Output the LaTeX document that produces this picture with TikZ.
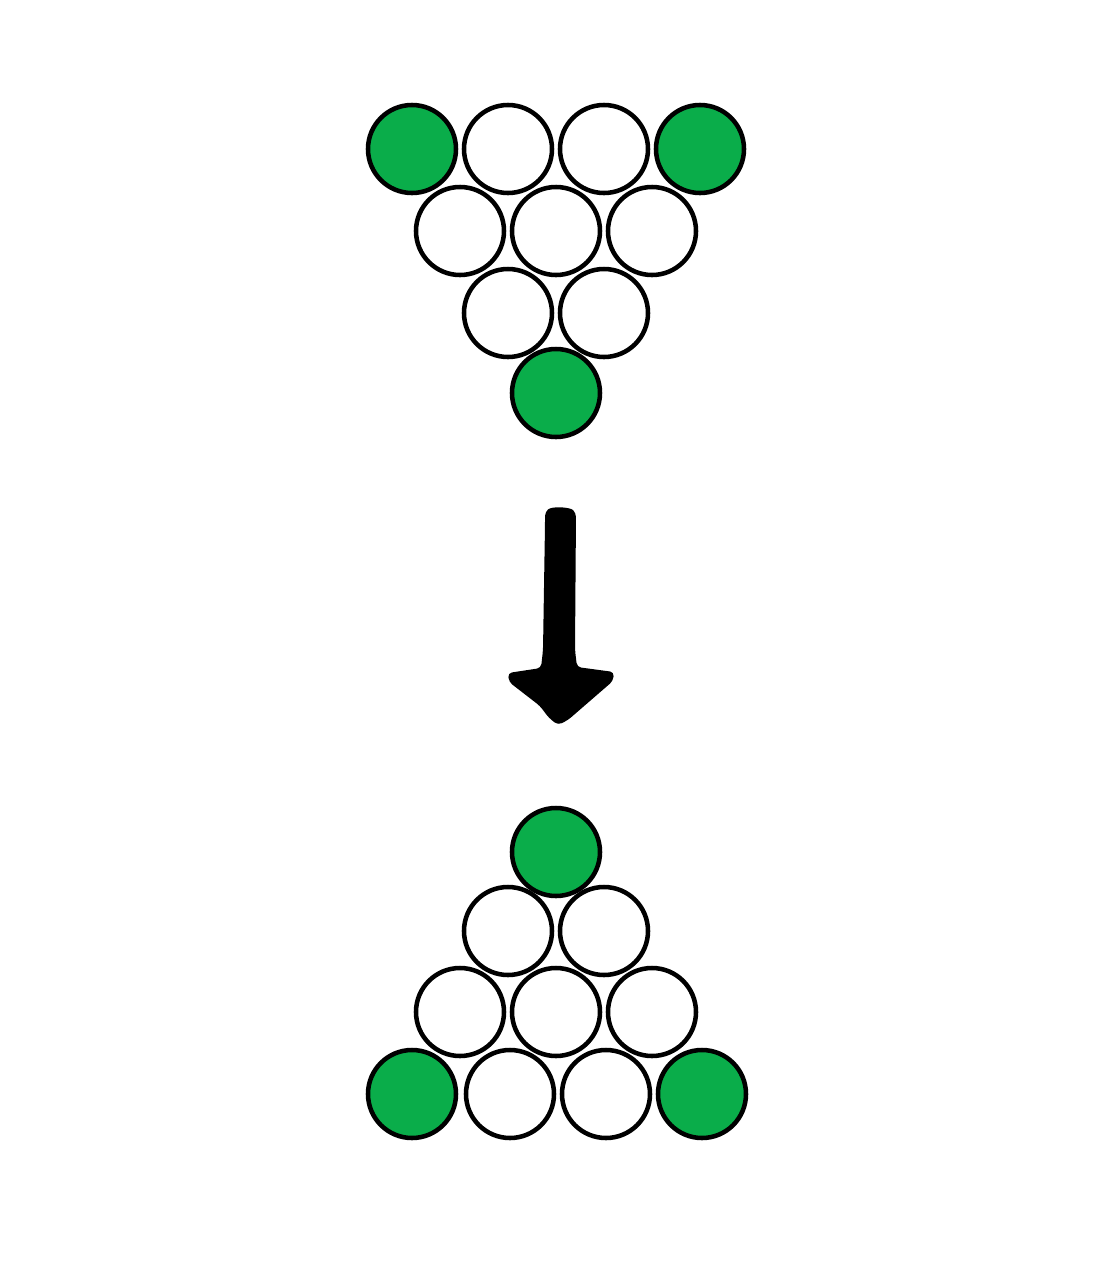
\documentclass[tikz,border=0pt]{standalone}
\definecolor{ballgreen}{HTML}{0AAD4A}
\begin{document}
\begin{tikzpicture}[x=0.75pt,y=-0.75pt,
  ball/.style={circle,draw=black,line width=3.4pt,minimum size=88*0.75pt,inner sep=0pt,fill=white},
  gball/.style={ball,fill=ballgreen}]
\useasboundingbox (0,0) rectangle (1100,1272);
% top (inverted) triangle
\node[gball] (t1) at (412,149) {};
\node[ball]  (t2) at (508,149) {};
\node[ball]  (t3) at (604,149) {};
\node[gball] (t4) at (700,149) {};
\node[ball]  (t5) at (460,231) {};
\node[ball]  (t6) at (556,231) {};
\node[ball]  (t7) at (652,231) {};
\node[ball]  (t8) at (508,313) {};
\node[ball]  (t9) at (604,313) {};
\node[gball] (t10) at (556,393) {};
% arrow
\fill[black,rounded corners=3pt] (545,512) .. controls (552,506) and (570,507) .. (576,513)
  -- (575,650) -- (577,667) -- (614,672) -- (613,681) -- (568,720) -- (558,725)
  -- (549,718) -- (540,706) -- (509,682) -- (508,673) -- (541,668) -- (543,650) -- (545,525) -- cycle;
% bottom triangle
\node[gball] (b1) at (556,852) {};
\node[ball]  (b2) at (508,931) {};
\node[ball]  (b3) at (604,931) {};
\node[ball]  (b4) at (460,1012) {};
\node[ball]  (b5) at (556,1012) {};
\node[ball]  (b6) at (652,1012) {};
\node[gball] (b7) at (412,1094) {};
\node[ball]  (b8) at (510,1094) {};
\node[ball]  (b9) at (606,1094) {};
\node[gball] (b10) at (702,1094) {};
\end{tikzpicture}
\end{document}
